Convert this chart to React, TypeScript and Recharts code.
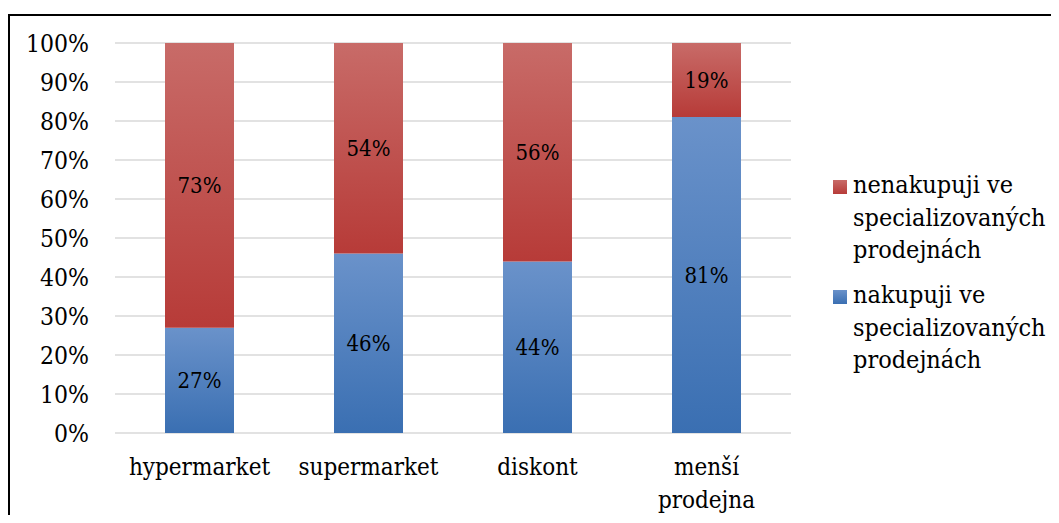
import React from 'react';
import { BarChart, Bar, XAxis, YAxis, CartesianGrid, Legend, LabelList } from 'recharts';

const categories = ['hypermarket', 'supermarket', 'diskont', 'menší prodejna'];
const buyingValues = [27, 46, 44, 81];
const notBuyingValues = [73, 54, 56, 19];
const yTicks = [0, 10, 20, 30, 40, 50, 60, 70, 80, 90, 100];
const seriesNames = {
  buying: 'nakupuji ve specializovaných prodejnách',
  notBuying: 'nenakupuji ve specializovaných prodejnách',
};

const data = categories.map((name, i) => ({
  name,
  buying: buyingValues[i],
  notBuying: notBuyingValues[i],
}));

const FONT = '"DejaVu Serif Condensed", "DejaVu Serif", serif';
const RED_TOP = '#C86B68';
const RED_BOTTOM = '#B73B38';
const BLUE_TOP = '#6A92CA';
const BLUE_BOTTOM = '#3A6FB2';

const CategoryTick = (props: any) => {
  const { x, y, payload } = props;
  const lines = String(payload.value).split(' ');
  return (
    <text x={x} y={y} textAnchor="middle" style={{ fontFamily: FONT }} fontSize={24} fill="#000">
      {lines.map((line, i) => (
        <tspan key={i} x={x} dy={i === 0 ? 42 : 33}>
          {line}
        </tspan>
      ))}
    </text>
  );
};

const LegendContent = (props: any) => {
  const items = [...(props.payload || [])].reverse();
  return (
    <div style={{ fontFamily: FONT, fontSize: 25, color: '#000' }}>
      {items.map((item: any, i: number) => (
        <div
          key={i}
          style={{ position: 'relative', paddingLeft: 20, lineHeight: '32.5px', marginBottom: 12.5, width: 200 }}
        >
          <div
            style={{
              position: 'absolute',
              left: 0,
              top: 11,
              width: 14,
              height: 14,
              background:
                item.dataKey === 'notBuying'
                  ? `linear-gradient(${RED_TOP}, ${RED_BOTTOM})`
                  : `linear-gradient(${BLUE_TOP}, ${BLUE_BOTTOM})`,
            }}
          />
          {item.value}
        </div>
      ))}
    </div>
  );
};

export default function App() {
  return (
    <div
      style={{
        marginTop: 6,
        borderTop: '2px solid #000',
        borderLeft: '2px solid #000',
        height: 499,
      }}
    >
      <BarChart
        width={1049}
        height={499}
        data={data}
        margin={{ top: 27, right: 268, bottom: 30, left: 25 }}
      >
        <defs>
          <linearGradient id="gradRed" x1="0" y1="0" x2="0" y2="1">
            <stop offset="0%" stopColor={RED_TOP} />
            <stop offset="100%" stopColor={RED_BOTTOM} />
          </linearGradient>
          <linearGradient id="gradBlue" x1="0" y1="0" x2="0" y2="1">
            <stop offset="0%" stopColor={BLUE_TOP} />
            <stop offset="100%" stopColor={BLUE_BOTTOM} />
          </linearGradient>
        </defs>
        <CartesianGrid vertical={false} stroke="#d9d9d9" strokeWidth={1.5} />
        <XAxis
          dataKey="name"
          axisLine={false}
          tickLine={false}
          tickSize={0}
          tickMargin={0}
          height={52}
          interval={0}
          tick={<CategoryTick />}
        />
        <YAxis
          domain={[0, 100]}
          ticks={yTicks}
          tickFormatter={(v: number) => `${v}%`}
          axisLine={false}
          tickLine={false}
          tickSize={0}
          tickMargin={26}
          width={80}
          tick={{ fontSize: 24.5, fill: '#000', style: { fontFamily: FONT } }}
        />
        <Legend
          layout="vertical"
          align="center"
          verticalAlign="middle"
          wrapperStyle={{ left: 823, top: 153, width: 226 }}
          content={<LegendContent />}
        />
        <Bar
          dataKey="buying"
          name={seriesNames.buying}
          stackId="a"
          fill="url(#gradBlue)"
          barSize={69}
          isAnimationActive={false}
        >
          <LabelList
            dataKey="buying"
            position="center"
            formatter={(v: any) => `${v}%`}
            style={{ fontSize: 22, fill: '#000', fontFamily: FONT }}
          />
        </Bar>
        <Bar
          dataKey="notBuying"
          name={seriesNames.notBuying}
          stackId="a"
          fill="url(#gradRed)"
          barSize={69}
          isAnimationActive={false}
        >
          <LabelList
            dataKey="notBuying"
            position="center"
            formatter={(v: any) => `${v}%`}
            style={{ fontSize: 22, fill: '#000', fontFamily: FONT }}
          />
        </Bar>
      </BarChart>
    </div>
  );
}
